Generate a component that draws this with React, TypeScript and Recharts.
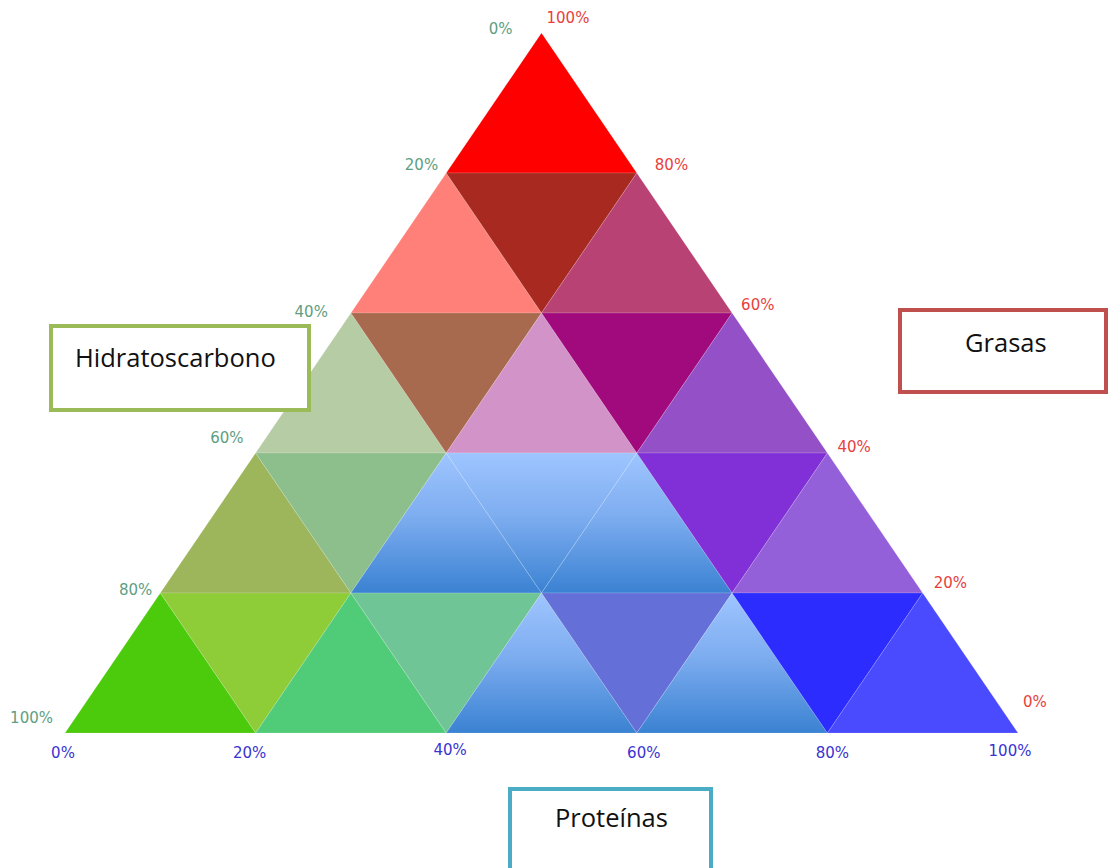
import { Scatter, ScatterChart, XAxis, YAxis } from 'recharts'

// ternary grid: every cell is 3 corners as [fat %, protein %] (carbs = 100 - fat - protein)
const cells: number[][][] = [
  [[100, 0], [80, 0], [80, 20]],

  [[80, 0], [60, 0], [60, 20]],
  [[80, 0], [80, 20], [60, 20]],
  [[80, 20], [60, 20], [60, 40]],

  [[60, 0], [40, 0], [40, 20]],
  [[60, 0], [60, 20], [40, 20]],
  [[60, 20], [40, 20], [40, 40]],
  [[60, 20], [60, 40], [40, 40]],
  [[60, 40], [40, 40], [40, 60]],

  [[40, 0], [20, 0], [20, 20]],
  [[40, 0], [40, 20], [20, 20]],
  [[40, 20], [20, 20], [20, 40]],
  [[40, 20], [40, 40], [20, 40]],
  [[40, 40], [20, 40], [20, 60]],
  [[40, 40], [40, 60], [20, 60]],
  [[40, 60], [20, 60], [20, 80]],

  [[20, 0], [0, 0], [0, 20]],
  [[20, 0], [20, 20], [0, 20]],
  [[20, 20], [0, 20], [0, 40]],
  [[20, 20], [20, 40], [0, 40]],
  [[20, 40], [0, 40], [0, 60]],
  [[20, 40], [20, 60], [0, 60]],
  [[20, 60], [0, 60], [0, 80]],
  [[20, 60], [20, 80], [0, 80]],
  [[20, 80], [0, 80], [0, 100]],
]

const cellFills = [
  '#FF0000',
  '#FF8079', '#A8291F', '#B84274',
  '#B6CCA4', '#A86A4E', '#D294C8', '#A00A7C', '#9450C6',
  '#9DB55B', '#8DBF8C', 'blue', 'blue', 'blue', '#8030D6', '#9460DA',
  '#4CCB0C', '#8ECC38', '#50CB78', '#70C596', 'blue', '#6470D8', 'blue', '#2C2CFF', '#4A4AFF',
]

const gridPct = [0, 20, 40, 60, 80, 100]

// label nudges in px, same order as gridPct
const carbNudge = [[-29, -4], [-8, -8], [-23, -1], [-12, -15], [-8, -3], [-12, -15]]
const fatNudge = [[5, -31], [11, -10], [10, -6], [9, -8], [18, -8], [5, -15]]
const protNudge = [[-2, 20], [-6, 20], [4, 17], [7, 20], [5, 20], [-8, 18]]

const toPoint = (fat: number, protein: number) => ({
  x: (protein + fat / 2) / 100,
  y: fat / 100,
})

const carbTicks = gridPct.map((c) => ({ ...toPoint(100 - c, 0), pct: c }))
const fatTicks = gridPct.map((f) => ({ ...toPoint(f, 100 - f), pct: f }))
const protTicks = gridPct.map((p) => ({ ...toPoint(0, p), pct: p }))

const FONT = '"DejaVu Sans", sans-serif'

function tickShape(color: string, nudge: number[][], anchor: 'start' | 'middle' | 'end') {
  return (props: any) => {
    const i = gridPct.indexOf(props.payload.pct)
    const [dx, dy] = nudge[i]
    return (
      <text
        x={props.cx + dx}
        y={props.cy + dy}
        fill={color}
        fontSize={15}
        fontFamily={FONT}
        textAnchor={anchor}
        dominantBaseline="central"
      >
        {props.payload.pct}%
      </text>
    )
  }
}

function cellLine(fill: string, id: string) {
  return (props: any) => {
    const pts = (props.points || []).map((p: any) => `${p.x},${p.y}`).join(' ')
    const isGrad = fill === 'blue'
    return (
      <g>
        {isGrad && (
          <defs>
            <linearGradient id={id} x1="0" y1="0" x2="0" y2="1">
              <stop offset="0%" stopColor="#9EC5FF" />
              <stop offset="45%" stopColor="#7EADF0" />
              <stop offset="100%" stopColor="#3A82D2" />
            </linearGradient>
          </defs>
        )}
        <polygon
          points={pts}
          fill={isGrad ? `url(#${id})` : fill}
          stroke="rgba(255,255,255,0.15)"
          strokeWidth={1}
        />
      </g>
    )
  }
}

const noDot = () => <g />

export default function App() {
  return (
    <div style={{ position: 'absolute', left: 0, top: 0, width: 1110, height: 868, background: '#fff' }}>
      <ScatterChart width={1110} height={868} margin={{ top: 33, right: 92, bottom: 135, left: 65 }}>
        <XAxis type="number" dataKey="x" domain={[0, 1]} hide />
        <YAxis type="number" dataKey="y" domain={[0, 1]} hide />
        {cells.map((c, i) => (
          <Scatter
            key={i}
            data={c.map(([f, p]) => toPoint(f, p))}
            line={cellLine(cellFills[i], `grad${i}`)}
            lineType="joint"
            shape={noDot}
            isAnimationActive={false}
          />
        ))}
        <Scatter data={carbTicks} shape={tickShape('#5E9E82', carbNudge, 'end')} isAnimationActive={false} />
        <Scatter data={fatTicks} shape={tickShape('#E8413C', fatNudge, 'start')} isAnimationActive={false} />
        <Scatter data={protTicks} shape={tickShape('#3A33D2', protNudge, 'middle')} isAnimationActive={false} />
      </ScatterChart>
      <svg
        width={1110}
        height={868}
        style={{ position: 'absolute', left: 0, top: 0, pointerEvents: 'none' }}
      >
        <g fontFamily='"Open Sans", sans-serif' fontSize={25.5} fill="#111">
          <rect x={51} y={326} width={258} height={84} fill="#fff" stroke="#9BBB59" strokeWidth={4} />
          <text x={75} y={367}>Hidratoscarbono</text>
          <rect x={900} y={310} width={206} height={82} fill="#fff" stroke="#C0504D" strokeWidth={4} />
          <text x={965} y={352}>Grasas</text>
          <rect x={510} y={789} width={201} height={90} fill="#fff" stroke="#4BACC6" strokeWidth={4} />
          <text x={555} y={827}>Proteínas</text>
        </g>
      </svg>
    </div>
  )
}
